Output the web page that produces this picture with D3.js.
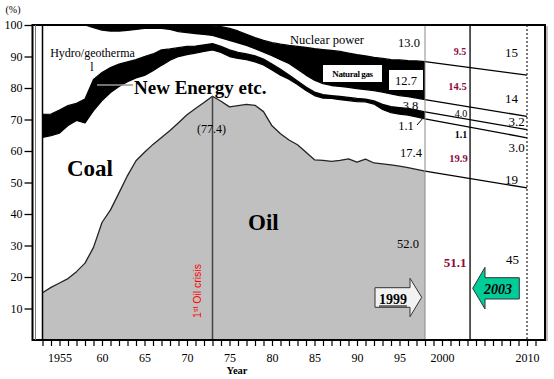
<!DOCTYPE html>
<html><head><meta charset="utf-8">
<script src="https://cdn.jsdelivr.net/npm/d3@7"></script>
<style>
body{margin:0;background:#fff}
svg{display:block}
</style>
</head><body>
<svg id="c" width="554" height="379"></svg>
<script>
// ---------- data (shares in %) ----------
const years = d3.range(1953, 1999);
const oil = [15.0,16.7,18.1,19.5,21.7,24.4,29.4,37.3,41.3,46.7,52.2,56.9,59.6,62.1,64.3,66.5,69.0,71.5,73.5,75.4,77.4,75.8,74.0,74.4,74.8,74.5,72.5,68.0,65.5,63.5,62.0,59.6,57.2,57.0,56.7,57.0,57.5,56.5,57.4,56.2,55.9,55.6,55.2,54.7,54.2,53.6];
const coal = [49.3,48.2,47.6,48.6,48.0,44.5,43.4,38.7,37.3,33.8,29.8,26.3,24.4,23.4,22.9,22.3,21.0,19.1,17.6,16.2,14.7,15.5,16.0,15.0,14.2,13.8,14.8,17.7,18.6,19.3,19.1,19.6,20.4,19.8,20.0,19.3,18.5,19.2,18.2,18.7,17.3,16.6,16.5,16.7,16.6,16.6];
const newEnergy = [7.3,6.8,7.3,6.3,5.4,7.6,9.9,8.9,7.9,7.1,6.3,5.8,6.0,5.3,4.9,3.6,2.8,2.6,2.2,2.1,2.0,1.9,2.1,1.9,1.8,1.9,1.9,1.9,1.8,1.3,1.1,1.1,1.1,1.1,0.9,1.0,1.0,1.0,0.9,1.0,1.6,1.9,2.1,2.1,2.2,2.2];
const hydro = [28.4,28.3,27.0,25.6,24.9,23.5,16.5,13.5,11.6,10.5,10.0,9.6,8.9,8.2,6.8,6.2,5.1,4.4,4.0,3.3,2.6,2.7,3.0,3.0,2.7,2.3,2.2,2.7,3.1,3.7,3.8,3.8,3.8,3.5,3.2,3.2,3.2,3.1,3.0,3.3,3.9,4.0,3.8,3.8,3.8,3.9];
const naturalGas = [0,0,0,0,0,0,0.8,1.6,1.9,1.9,1.7,1.4,1.1,1.0,1.1,1.4,2.1,2.4,2.6,2.8,3.0,3.6,3.8,3.8,3.5,3.5,3.7,4.1,4.9,5.7,7.2,8.8,10.0,10.8,11.1,11.1,10.9,10.8,10.7,10.5,10.7,10.9,11.3,11.4,11.8,12.1];
const nuclear = [0,0,0,0,0,0,0,0,0,0,0,0,0,0,0,0,0,0,0.1,0.2,0.3,0.5,1.1,1.9,3.0,4.0,4.9,5.6,6.1,6.5,6.8,7.1,7.5,7.8,8.1,8.4,8.9,9.4,9.8,10.3,10.6,11.0,11.1,11.3,11.4,11.6];

// outlook for 2010 (drawn as lines from 1998)
const outlookYear = 2010;
const outlookShares = [48.3, 15.9, 2.6, 4.2, 13.1, 15.9]; // oil, coal, newEnergy, hydro, gas, nuclear

const keys = ["oil","coal","newEnergy","hydro","naturalGas","nuclear"];
const fills = {oil:"#c0c0c0", coal:"#ffffff", newEnergy:"#000000", hydro:"#ffffff", naturalGas:"#000000", nuclear:"#ffffff"};

const yTicks = [10,20,30,40,50,60,70,80,90,100];
const xTickYears = d3.range(1953, 2012);
const xTickLabels = {1955:"1955",1960:"60",1965:"65",1970:"70",1975:"75",1980:"80",1985:"85",1990:"90",1995:"95",2000:"2000",2010:"2010"};

const refYears = {crisis:1973, actual:1998, latest:2003.3, target:2010};
const oilPeak = 77.4;

const labels1998 = ["13.0","12.7","3.8","1.1","17.4","52.0"];
const labels2003 = ["9.5","14.5","4.0","1.1","19.9","51.1"];
const labels2010 = ["15","14","3.2","3.0","19","45"];

// ---------- build ----------
const SERIF = '"Liberation Serif","Times New Roman",serif';
const SANS = '"Liberation Sans",Arial,sans-serif';
const table = years.map((yr,i)=>({year:yr, oil:oil[i], coal:coal[i], newEnergy:newEnergy[i], hydro:hydro[i], naturalGas:naturalGas[i], nuclear:nuclear[i]}));
const stack = d3.stack().keys(keys);
const series = stack(table);

const lastRow = table[table.length-1];
const outlookRow = {year:outlookYear};
keys.forEach((k,i)=>outlookRow[k]=outlookShares[i]);
const outSeries = stack([lastRow, outlookRow]);

const svg = d3.select("#c");
const x = d3.scaleLinear().domain([1953, 2010]).range([42.5, 527]);
const y = d3.scaleLinear().domain([0, 100]).range([340, 25]);

const pL = 32.5, pR = 545, pT = 25, pB = 340;

// areas
const area = d3.area().x(d=>x(d.data.year)).y0(d=>y(d[0])).y1(d=>y(d[1]));
svg.append("g").selectAll("path").data(series).join("path")
  .attr("d", area).attr("fill", d=>fills[d.key]).attr("stroke","none");

// boundary lines
const line = d3.line().x(d=>x(d.data.year)).y(d=>y(d[1]));
svg.append("g").selectAll("path").data(series.slice(0,5)).join("path")
  .attr("d", line).attr("fill","none").attr("stroke", (d,i)=> i===0 ? "#222" : "#000")
  .attr("stroke-width", 1.3).attr("stroke-linejoin","round");

// outlook lines
svg.append("g").selectAll("path").data(outSeries.slice(0,5)).join("path")
  .attr("d", line).attr("fill","none").attr("stroke","#000").attr("stroke-width",1.3);

// vertical reference lines
svg.append("line").attr("x1",x(refYears.actual)).attr("x2",x(refYears.actual))
  .attr("y1",pT).attr("y2",pB).attr("stroke","#8a8a8a").attr("stroke-width",1);
svg.append("line").attr("x1",x(refYears.latest)).attr("x2",x(refYears.latest))
  .attr("y1",pT).attr("y2",pB).attr("stroke","#000").attr("stroke-width",1.3);
svg.append("line").attr("x1",x(refYears.target)).attr("x2",x(refYears.target))
  .attr("y1",pT).attr("y2",pB).attr("stroke","#333").attr("stroke-width",1.3)
  .attr("stroke-dasharray","2,2");
svg.append("line").attr("x1",x(refYears.crisis)).attr("x2",x(refYears.crisis))
  .attr("y1",y(oilPeak)).attr("y2",pB).attr("stroke","#444").attr("stroke-width",1.5);
svg.append("line").attr("x1",x(1953)).attr("x2",x(1953))
  .attr("y1",pT).attr("y2",pB).attr("stroke","#000").attr("stroke-width",1.5);

// frame
svg.append("line").attr("x1",pR+2).attr("x2",pR+2).attr("y1",pT+1).attr("y2",pB+1).attr("stroke","#aaa").attr("stroke-width",1.5);
svg.append("rect").attr("x",pL).attr("y",pT).attr("width",pR-pL).attr("height",pB-pT)
  .attr("fill","none").attr("stroke","#000").attr("stroke-width",2);
svg.append("line").attr("x1",35.5).attr("x2",35.5).attr("y1",pT).attr("y2",pB).attr("stroke","#777").attr("stroke-width",1);

// axes
const yAxis = d3.axisLeft(y).tickValues(yTicks).tickSize(8).tickPadding(2);
const gy = svg.append("g").attr("transform",`translate(${pL},0)`).call(yAxis);
gy.select(".domain").remove();
gy.selectAll("line").attr("stroke","#000").attr("stroke-width",1.3);
gy.selectAll("text").style("font-family",SERIF).style("font-size","12px").attr("fill","#000");

const xAxis = d3.axisBottom(x).tickValues(xTickYears).tickSize(6).tickPadding(7)
  .tickFormat(d=>xTickLabels[d] || "");
const gx = svg.append("g").attr("transform",`translate(0,${pB})`).call(xAxis);
gx.select(".domain").remove();
gx.selectAll("line").attr("stroke","#000").attr("stroke-width",1.2);
gx.selectAll("text").style("font-family",SERIF).style("font-size","12px").attr("fill","#000");

// ---------- text ----------
function t(txt, px, py, opts={}){
  const el = svg.append("text").attr("x",px).attr("y",py).text(txt)
    .style("font-family", opts.family||SERIF)
    .style("font-size", (opts.size||12)+"px")
    .attr("text-anchor", opts.anchor||"middle")
    .attr("fill", opts.fill||"#000");
  if(opts.bold) el.style("font-weight","bold");
  if(opts.italic) el.style("font-style","italic");
  return el;
}
t("(%)", 13, 13, {size:10});
t("Year", 237, 374, {size:10.5, bold:true});

t("Hydro/geotherma", 92.5, 57, {size:12});
t("l", 92, 71, {size:12});
svg.append("line").attr("x1",97).attr("x2",133).attr("y1",85).attr("y2",85).attr("stroke","#999").attr("stroke-width",1.5);
t("New Energy etc.", 134, 94, {size:19, bold:true, anchor:"start"});
t("Coal", 67, 176, {size:23, bold:true, anchor:"start"});
t("Oil", 248, 230, {size:23, bold:true, anchor:"start"});
t("Nuclear power", 290, 44, {size:12.5, anchor:"start"});
t("("+oilPeak+")", x(refYears.crisis)-1, 132.5, {size:12});

// 1st oil crisis
const oc = svg.append("text").attr("transform","translate(201,291) rotate(-90)")
  .attr("text-anchor","middle").style("font-family",SANS).style("font-size","10.5px").attr("fill","#ff0000");
oc.append("tspan").text("1");
oc.append("tspan").text("st").style("font-size","7px").attr("dy","-3");
oc.append("tspan").text(" Oil crisis").attr("dy","3");

// 1998 labels
svg.append("rect").attr("x",323).attr("y",65).attr("width",59).attr("height",17).attr("fill","#fff");
t("Natural gas", 352.5, 77, {size:9, bold:true}).attr("letter-spacing","-0.4");
svg.append("rect").attr("x",389).attr("y",70).attr("width",34).attr("height",20).attr("fill","#fff");
const pos1998 = [[409,47],[406,85],[410.5,110],[406,130],[411,157],[408,248]];
labels1998.forEach((s,i)=>t(s,pos1998[i][0],pos1998[i][1],{size:12.5}));
svg.append("line").attr("x1",417).attr("y1",125).attr("x2",424).attr("y2",117).attr("stroke","#000").attr("stroke-width",1);

// 2003 labels
const maroon = "#8c0a3c";
const pos2003 = [[460,55,10,maroon,true],[457.5,90,10.5,maroon,true],[461,117,10,"#000",false],[461,138,10,"#000",true],[458.5,162,10.5,maroon,true],[455,267,13,maroon,true]];
labels2003.forEach((s,i)=>{const p=pos2003[i]; t(s,p[0],p[1],{size:p[2],fill:p[3],bold:p[4]});});

// 2010 labels
const pos2010 = [[511.5,57],[511.5,103],[516.5,126],[516.5,152],[511.5,184],[512.5,264]];
labels2010.forEach((s,i)=>t(s,pos2010[i][0],pos2010[i][1],{size:13}));

// arrows
svg.append("path").attr("d","M375,287.7 L410,287.7 L410,278.3 L421.7,297.3 L410,316.7 L410,307.3 L375,307.3 Z")
  .attr("fill","#f2f2f2").attr("stroke","#333").attr("stroke-width",1);
t("1999", 393, 304, {size:14, bold:true});
svg.append("line").attr("x1",379).attr("x2",407).attr("y1",306).attr("y2",306).attr("stroke","#000").attr("stroke-width",1);

svg.append("path").attr("d","M472.7,288.3 L485,267.3 L485,277.7 L519.3,277.7 L519.3,299 L485,299 L485,309 Z")
  .attr("fill","#00cc99").attr("stroke","#333").attr("stroke-width",1);
t("2003", 498, 294, {size:14, bold:true, italic:true});
</script>
</body></html>
